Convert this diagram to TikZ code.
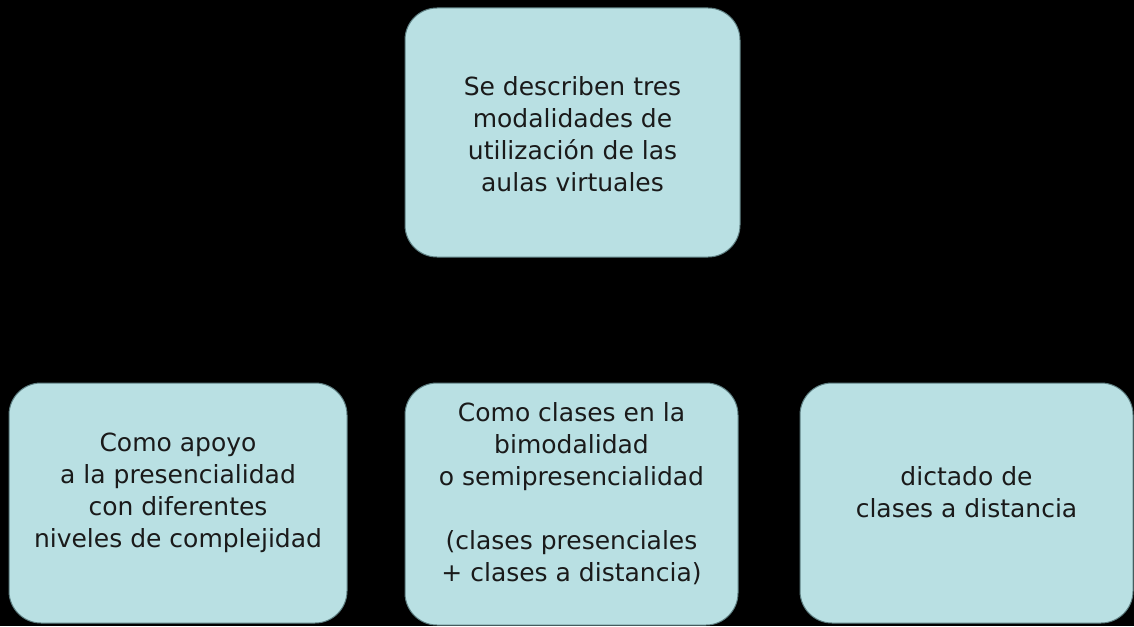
\documentclass[tikz,border=0pt]{standalone}
\usepackage{fontspec}
\setmainfont{DejaVu Sans}
\definecolor{boxfill}{HTML}{B9E0E3}
\definecolor{boxline}{HTML}{5E7F82}
\definecolor{txt}{HTML}{1A1A1A}
\begin{document}
\begin{tikzpicture}[x=1pt,y=-1pt,
  card/.style={draw=boxline, line width=1pt, fill=boxfill, rounded corners=32pt},
  cardtext/.style={text=txt, align=center, font=\fontsize{25}{32}\selectfont, inner sep=0pt}]
\fill[black] (0,0) rectangle (1134,626);
\useasboundingbox (0,0) rectangle (1134,626);
\draw[card] (405,8) rectangle (740,257);
\node[cardtext] (top) at (572.5,134.5) {Se describen tres\\modalidades de\\utilización de las\\aulas virtuales};
\draw[card] (9,383) rectangle (347,623);
\node[cardtext] (left) at (178,492.5) {Como apoyo\\a la presencialidad\\con diferentes\\niveles de complejidad};
\draw[card] (405,383) rectangle (738,625);
\node[cardtext] (mid) at (571.5,493.5) {Como clases en la\\bimodalidad\\o semipresencialidad\\[32pt](clases presenciales\\+ clases a distancia)};
\draw[card] (800,383) rectangle (1133,623);
\node[cardtext] (right) at (966.5,492.5) {dictado de\\clases a distancia};
\end{tikzpicture}
\end{document}
